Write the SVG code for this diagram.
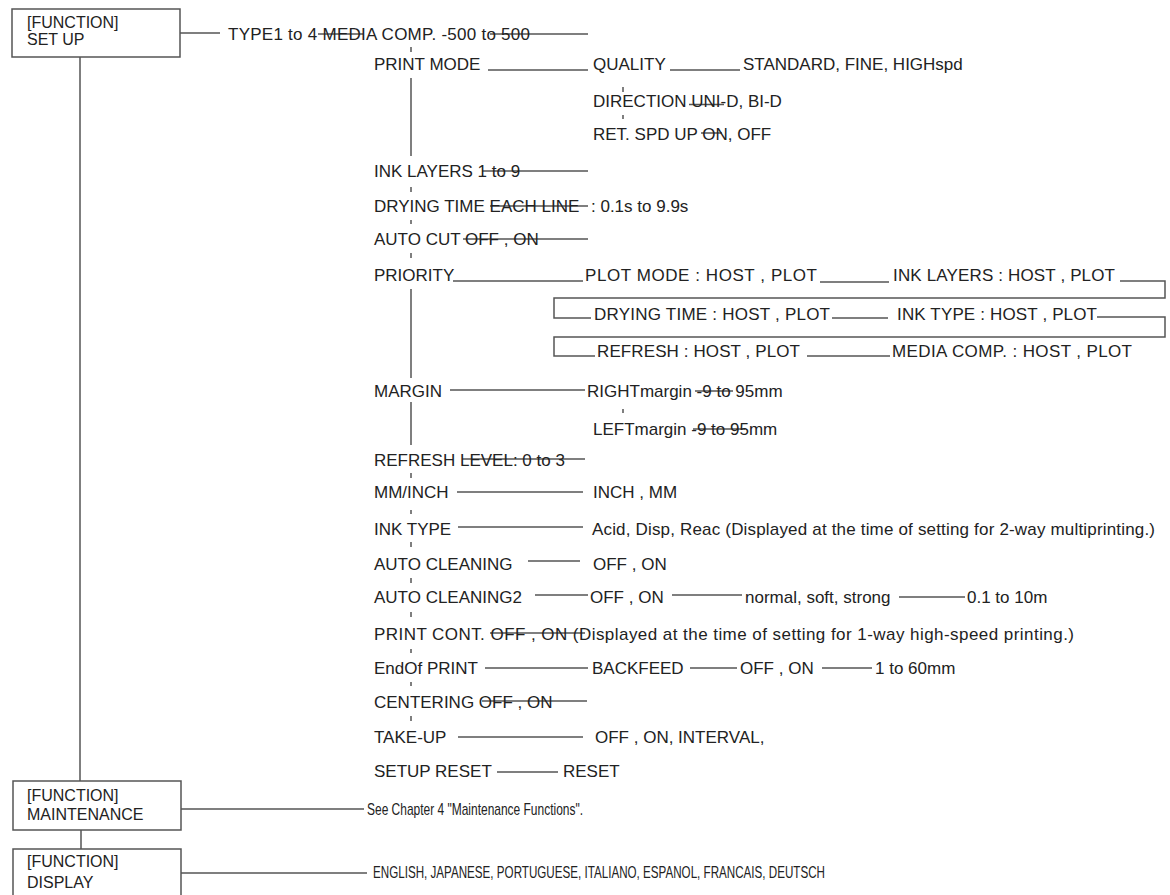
<svg xmlns="http://www.w3.org/2000/svg" width="1170" height="895" viewBox="0 0 1170 895">
<style>
.t{font-family:"Liberation Sans",Arial,Helvetica,sans-serif;font-size:17px;fill:#222}
.b{font-family:"Liberation Sans",Arial,Helvetica,sans-serif;font-size:16px;fill:#222}
.ln{stroke:#555;stroke-width:1.5;fill:none}
.box{stroke:#555;stroke-width:1.5;fill:#fff}
</style>
<rect width="1170" height="895" fill="#fff"/>
<g id="connectors" class="ln">
<path d="M180,33H220"/>
<path d="M80,57V781"/>
<path d="M181,809H364"/>
<path d="M81,830V849"/>
<path d="M181,873H367"/>
<path d="M318,34H363M490,34H588"/>
<path d="M411,47V52M411,78V156M411,187V192M411,220V224M411,253V258M411,289V378M411,402V445M411,473V478M411,510V514M411,542V547M411,578V583M411,612V617M411,649V653M411,682V686M411,716V721"/>
<path d="M488,70H588M670,70H740"/>
<path d="M623,87V92M623,115V119M623,409V413"/>
<path d="M689,104.5H724"/>
<path d="M701,133H722"/>
<path d="M482,171H588"/>
<path d="M490,206H588"/>
<path d="M463,239H588"/>
<path d="M453,281H583M820,282H889"/>
<path d="M1120,281H1165V298H554V318H591"/>
<path d="M832,318H888"/>
<path d="M1097,317H1165V337H554V356H595"/>
<path d="M807,356H890"/>
<path d="M450,390H585M695,391H733"/>
<path d="M693,429H745"/>
<path d="M462,459H585"/>
<path d="M457,492H583"/>
<path d="M458,527H583"/>
<path d="M528,561H580"/>
<path d="M535,595H588M672,595H742M899,597H965"/>
<path d="M490,633H585"/>
<path d="M485,668H588M690,668H737M822,668H872"/>
<path d="M482,701H587"/>
<path d="M458,737H583"/>
<path d="M497,772H558"/>
</g>
<g id="node-setup">
<rect class="box" x="12" y="9" width="168" height="48"/>
<text class="b" x="27" y="28">[FUNCTION]</text>
<text class="b" x="27" y="45">SET UP</text>
</g>
<g id="node-maintenance">
<rect class="box" x="13" y="781" width="168" height="49"/>
<text class="b" x="27" y="801">[FUNCTION]</text>
<text class="b" x="27" y="820">MAINTENANCE</text>
</g>
<g id="node-display">
<rect class="box" x="13" y="849" width="168" height="50"/>
<text class="b" x="27" y="867">[FUNCTION]</text>
<text class="b" x="27" y="888">DISPLAY</text>
</g>
<g id="node-type"><text class="t" x="228" y="39.5" textLength="302">TYPE1 to 4 MEDIA COMP. -500 to 500</text></g>
<g id="node-printmode">
<text class="t" x="374" y="70">PRINT MODE</text>
<text class="t" x="593" y="70">QUALITY</text>
<text class="t" x="743" y="70">STANDARD, FINE, HIGHspd</text>
<text class="t" x="593" y="106.5">DIRECTION UNI-D, BI-D</text>
<text class="t" x="593" y="140">RET. SPD UP ON, OFF</text>
</g>
<g id="node-inklayers"><text class="t" x="374" y="177">INK LAYERS 1 to 9</text></g>
<g id="node-drying">
<text class="t" x="374" y="211.5">DRYING TIME EACH LINE</text>
<text class="t" x="591" y="211.5">: 0.1s to 9.9s</text>
</g>
<g id="node-autocut"><text class="t" x="374" y="245">AUTO CUT OFF , ON</text></g>
<g id="node-priority">
<text class="t" x="374" y="281">PRIORITY</text>
<text class="t" x="585" y="281" textLength="232">PLOT MODE : HOST , PLOT</text>
<text class="t" x="893" y="281" textLength="222">INK LAYERS : HOST , PLOT</text>
<text class="t" x="594" y="320" textLength="236">DRYING TIME : HOST , PLOT</text>
<text class="t" x="897" y="320" textLength="200">INK TYPE : HOST , PLOT</text>
<text class="t" x="597" y="356.5" textLength="203">REFRESH : HOST , PLOT</text>
<text class="t" x="892" y="356.5" textLength="240">MEDIA COMP. : HOST , PLOT</text>
</g>
<g id="node-margin">
<text class="t" x="374" y="397">MARGIN</text>
<text class="t" x="587" y="397">RIGHTmargin -9 to 95mm</text>
<text class="t" x="593" y="435">LEFTmargin -9 to 95mm</text>
</g>
<g id="node-refresh"><text class="t" x="374" y="466">REFRESH LEVEL: 0 to 3</text></g>
<g id="node-mminch">
<text class="t" x="374" y="498">MM/INCH</text>
<text class="t" x="593" y="498">INCH , MM</text>
</g>
<g id="node-inktype">
<text class="t" x="374" y="535">INK TYPE</text>
<text class="t" x="592" y="535" textLength="563">Acid, Disp, Reac (Displayed at the time of setting for 2-way multiprinting.)</text>
</g>
<g id="node-autoclean">
<text class="t" x="374" y="570">AUTO CLEANING</text>
<text class="t" x="593" y="570">OFF , ON</text>
</g>
<g id="node-autoclean2">
<text class="t" x="374" y="603">AUTO CLEANING2</text>
<text class="t" x="590" y="603">OFF , ON</text>
<text class="t" x="745" y="603">normal, soft, strong</text>
<text class="t" x="967" y="603">0.1 to 10m</text>
</g>
<g id="node-printcont"><text class="t" x="374" y="640" textLength="700">PRINT CONT. OFF , ON (Displayed at the time of setting for 1-way high-speed printing.)</text></g>
<g id="node-endof">
<text class="t" x="374" y="674">EndOf PRINT</text>
<text class="t" x="592" y="674">BACKFEED</text>
<text class="t" x="740" y="674">OFF , ON</text>
<text class="t" x="875" y="674">1 to 60mm</text>
</g>
<g id="node-centering"><text class="t" x="374" y="708">CENTERING OFF , ON</text></g>
<g id="node-takeup">
<text class="t" x="374" y="743">TAKE-UP</text>
<text class="t" x="595" y="743">OFF , ON, INTERVAL,</text>
</g>
<g id="node-reset">
<text class="t" x="374" y="777">SETUP RESET</text>
<text class="t" x="563" y="777">RESET</text>
</g>
<g id="node-see"><text class="t" x="367" y="815" textLength="216" lengthAdjust="spacingAndGlyphs">See Chapter 4 "Maintenance Functions".</text></g>
<g id="node-lang"><text class="t" x="373" y="878" textLength="452" lengthAdjust="spacingAndGlyphs">ENGLISH, JAPANESE, PORTUGUESE, ITALIANO, ESPANOL, FRANCAIS, DEUTSCH</text></g>
</svg>
